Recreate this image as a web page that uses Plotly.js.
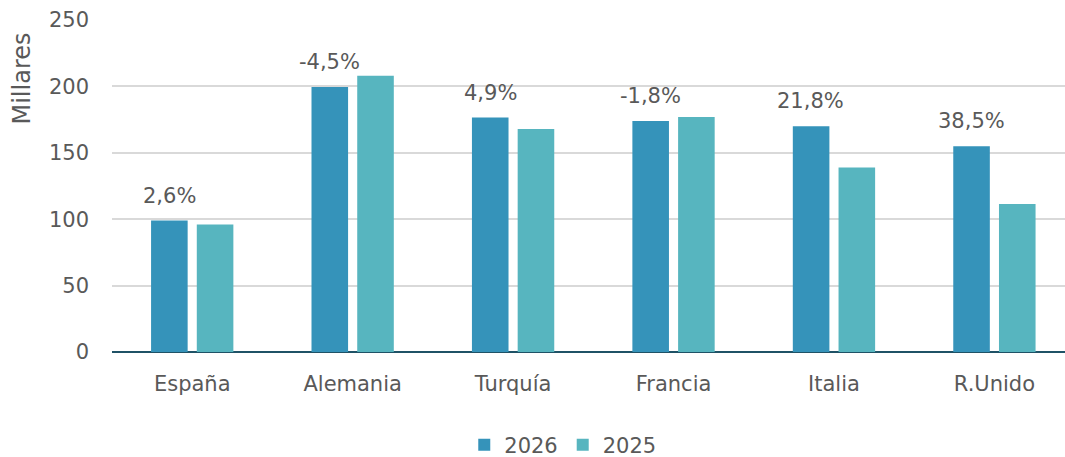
<!DOCTYPE html>
<html>
<head>
<meta charset="utf-8">
<script src="https://cdn.plot.ly/plotly-3.0.1.min.js"></script>
<style>html,body{margin:0;padding:0;background:#fff;}#chart{width:1065px;height:457px;}</style>
</head>
<body>
<div id="chart"></div>
<script>
const categories = ["España", "Alemania", "Turquía", "Francia", "Italia", "R.Unido"];
const values2026 = [99, 199.5, 176.5, 174, 170, 155];
const values2025 = [96, 208, 168, 177, 139, 111.5];
const changeLabels = ["2,6%", "-4,5%", "4,9%", "-1,8%", "21,8%", "38,5%"];
const yTicks = [0, 50, 100, 150, 200, 250];

const FONT = "DejaVu Sans";
const GREY = "#595959";

const traces = [
  {type: "bar", name: "2026", x: categories, y: values2026, marker: {color: "#3593ba"}, hoverinfo: "y"},
  {type: "bar", name: "2025", x: categories, y: values2025, marker: {color: "#57b5bf"}, hoverinfo: "y"}
];

const annotations = categories.map((c, i) => ({
  x: c, y: values2026[i], xref: "x", yref: "y",
  text: changeLabels[i], showarrow: false,
  xshift: -23, yshift: 25, yanchor: "middle",
  font: {family: FONT, size: 21, color: GREY}
}));
annotations.push({
  xref: "paper", yref: "paper", x: -0.094, y: 0.825,
  text: "Millares", textangle: -90, showarrow: false,
  xanchor: "center", yanchor: "middle",
  font: {family: FONT, size: 24, color: GREY}
});

const layout = {
  width: 1065, height: 457,
  margin: {l: 112, r: 0, t: 20, b: 105, autoexpand: false},
  paper_bgcolor: "#fff", plot_bgcolor: "#fff",
  barmode: "group", bargap: 0.43, bargroupgap: 0.2,
  font: {family: FONT, size: 21, color: GREY},
  xaxis: {
    type: "category", range: [-0.5, 5.44], automargin: false,
    showgrid: false, ticks: "", ticklabelstandoff: 17,
    tickfont: {family: FONT, size: 21, color: GREY},
    showline: false, zeroline: false
  },
  yaxis: {
    range: [0, 250], tickvals: yTicks, ticks: "", automargin: false,
    showgrid: true, gridcolor: "#d9d9d9", gridwidth: 2,
    zeroline: true, zerolinecolor: "#1f5266", zerolinewidth: 2,
    ticklabelstandoff: 22,
    tickfont: {family: FONT, size: 21, color: GREY}
  },
  showlegend: true,
  legend: {orientation: "h", x: 0.473, xanchor: "center", yref: "container", y: 0.026, yanchor: "middle",
           font: {family: FONT, size: 21, color: GREY}, itemwidth: 30, tracegroupgap: 0},
  annotations: annotations
};

Plotly.newPlot("chart", traces, layout, {displayModeBar: false, staticPlot: true});
</script>
</body>
</html>
